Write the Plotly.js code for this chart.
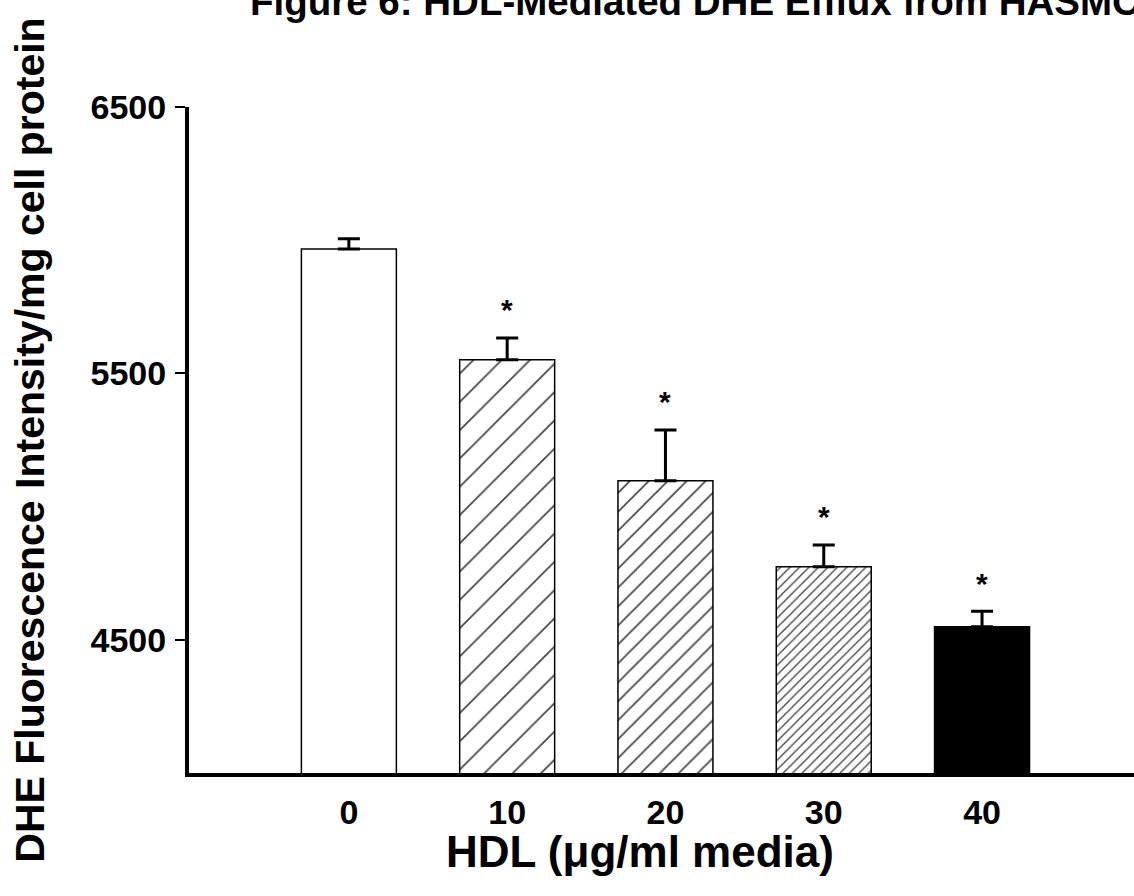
<!DOCTYPE html>
<html>
<head>
<meta charset="utf-8">
<script src="https://cdn.plot.ly/plotly-3.0.1.min.js"></script>
<style>html,body{margin:0;padding:0;background:#fff;}#chart{width:1134px;height:896px;}</style>
</head>
<body>
<div id="chart"></div>
<script>
// Data
const categories = ['0', '10', '20', '30', '40'];
const values = [5967, 5551, 5097, 4774, 4549];
const errors = [38, 82, 191, 82, 58];
const significance = ['', '*', '*', '*', '*'];
const yTickVals = [4500, 5500, 6500];
const yTickText = ['4500', '5500', '6500'];

const chartTitle = 'Figure 6: HDL-Mediated DHE Efflux from HASMC';
const xTitle = 'HDL (μg/ml media)';
const yTitle = 'DHE Fluorescence Intensity/mg cell protein';

// Styles (not data)
const fills = ['white', 'white', 'white', 'white', 'black'];
const patternShapes = ['', '/', '/', '/', ''];
const patternSizes = [8, 20, 13.4, 6.7, 8];
const patternSolidity = [0.1, 0.085, 0.12, 0.2, 0.1];

const FONT = 'Liberation Sans, Arial, sans-serif';

const trace = {
  type: 'bar',
  x: categories,
  y: values,
  width: 0.6,
  marker: {
    color: fills,
    line: {color: 'black', width: 1.5},
    pattern: {
      shape: patternShapes,
      size: patternSizes,
      solidity: patternSolidity,
      fgcolor: 'black',
      fgopacity: 1,
      fillmode: 'overlay'
    }
  },
  error_y: {
    type: 'data',
    symmetric: false,
    array: errors,
    arrayminus: errors.map(() => 0),
    color: 'black',
    thickness: 3,
    width: 11
  },
  hoverinfo: 'x+y'
};

const starAnnotations = [];
categories.forEach((c, i) => {
  if (significance[i]) {
    starAnnotations.push({
      x: i,
      y: values[i] + errors[i],
      xref: 'x',
      yref: 'y',
      text: '<b>' + significance[i] + '</b>',
      showarrow: false,
      yshift: 28,
      font: {family: FONT, size: 30, color: 'black'}
    });
  }
});

const layout = {
  width: 1134,
  height: 896,
  paper_bgcolor: 'white',
  plot_bgcolor: 'white',
  showlegend: false,
  margin: {l: 189, r: 0, t: 107, b: 123, pad: 0},
  title: {
    text: '<b>' + chartTitle + '</b>',
    font: {family: FONT, size: 38.5, color: 'black'},
    x: 250 / 1134,
    xanchor: 'left',
    xref: 'container',
    yref: 'container',
    y: 0.998,
    yanchor: 'middle'
  },
  xaxis: {
    type: 'category',
    range: [-1.01, 4.96],
    showline: true,
    linecolor: 'black',
    linewidth: 4,
    ticks: '',
    showgrid: false,
    zeroline: false,
    tickfont: {family: FONT, size: 34, color: 'black', weight: 'bold'},
    ticklabelstandoff: 6
  },
  yaxis: {
    range: [4000, 6500],
    showline: true,
    linecolor: 'black',
    linewidth: 4,
    ticks: 'outside',
    ticklen: 10,
    tickwidth: 2,
    tickcolor: 'black',
    tickvals: yTickVals,
    ticktext: yTickText,
    showgrid: false,
    zeroline: false,
    tickfont: {family: FONT, size: 34, color: 'black', weight: 'bold'},
    ticklabelstandoff: 2,
    title: {
      text: yTitle,
      font: {family: FONT, size: 41, color: 'black', weight: 'bold'},
      standoff: 34
    }
  },
  annotations: starAnnotations.concat([{
    text: '<b>' + xTitle + '</b>',
    xref: 'paper',
    yref: 'paper',
    x: (640 - 189) / 945,
    y: 0,
    xanchor: 'center',
    yanchor: 'top',
    yshift: -52,
    showarrow: false,
    font: {family: FONT, size: 44, color: 'black'}
  }])
};

Plotly.newPlot('chart', [trace], layout, {displayModeBar: false, staticPlot: true});
</script>
</body>
</html>
